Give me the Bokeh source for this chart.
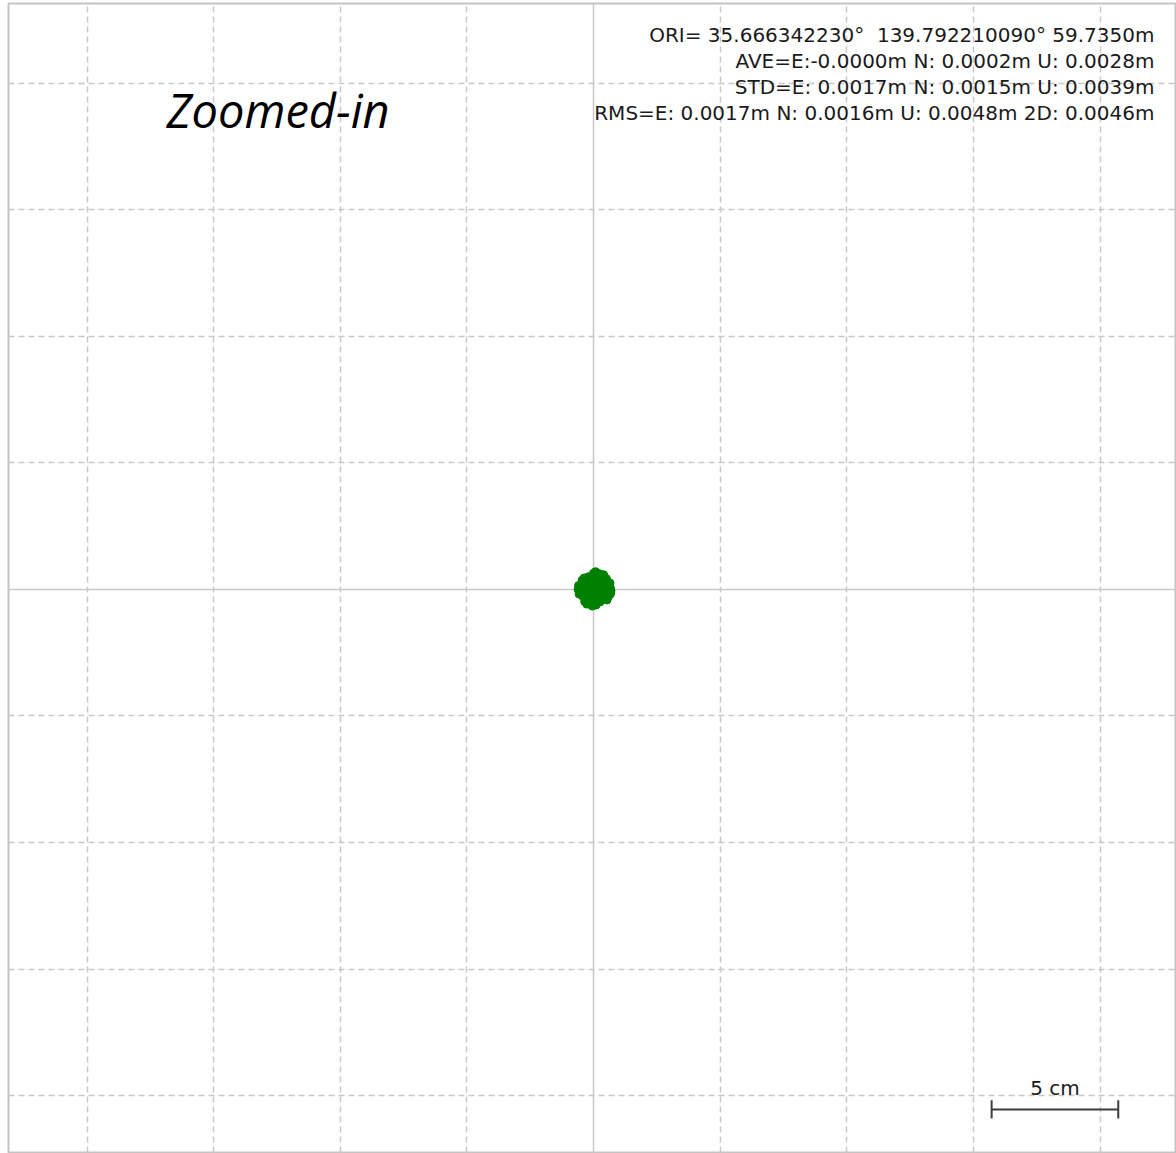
from bokeh.plotting import figure
from bokeh.models import Range1d, Grid, FixedTicker, Span, Label, ColumnDataSource
from bokeh.embed import file_html
from bokeh.resources import INLINE

# ---- data (E/N offsets from ORI, millimetres) ----
east_mm = [0, 1, -1, 1, -1, 2, -2, 0, 0, 3, -3, 1, -1, 3, -2, 2, -3, 2, -2, 4, -4, 0, 0,
           4, -4, 4, -4, 3, -3, 3, -3, 5, 5, -5, -5, 1, -1, 1, -1, 5.5, 5.5, -5, -5,
           2.5, -2.5, 2, -2.5, 6.2, 6.2, 6.0, -6.6, 0.3, -0.5, -1, 0.5, 4.6, -4.2, 4.8, -4,
           -6.4, -6.2, 6.4, 3.5, -3.2, -1.5, 1.8, 5.2, -5.0]
north_mm = [0, 1, 1, -1, -1, 0, 0, 2, -2, 1, -1, 3, -3, -2, 3, 3, 2, -3, -3, 0, 0, 4, -4,
            3, 3, -3, -3, 4, 4, -4, -4, 1, -1, 1, -1, 5, 5, -5, -5, 2.5, -2.5, 2.5, -2.5,
            5, 5, -5, -5, 0.5, -1.8, 2.5, 0, 7.0, 6.4, -6.6, -6.2, 4.2, 4.5, -4.2, -4.8,
            1.5, -1.8, -0.5, 5.8, -5.8, -6.0, 6.2, -3.2, 3.6]
east = [v / 1000.0 + 0.0005 for v in east_mm]
north = [v / 1000.0 for v in north_mm]

grid_ticks = [-0.2, -0.15, -0.1, -0.05, 0.05, 0.1, 0.15, 0.2]
stats_lines = [
    "ORI= 35.666342230\u00b0 \u00a0139.792210090\u00b0 59.7350m",
    "AVE=E:-0.0000m N: 0.0002m U: 0.0028m",
    "STD=E: 0.0017m N: 0.0015m U: 0.0039m",
    "RMS=E: 0.0017m N: 0.0016m U: 0.0048m 2D: 0.0046m",
]
title_text = "Zoomed-in"
scale_len = 0.05
scale_label = "5 cm"

W, H = 1176, 1153
p = figure(width=W, height=H, output_backend="svg", toolbar_location=None,
           x_range=Range1d(-0.2310, 0.2302), y_range=Range1d(-0.2224, 0.2314),
           min_border_left=8, min_border_top=3, min_border_right=0, min_border_bottom=1,
           x_axis_type=None, y_axis_type=None)
p.xgrid.visible = False
p.ygrid.visible = False
p.outline_line_color = "#c4c4c4"
p.outline_line_width = 2
p.background_fill_color = "white"
p.border_fill_color = "white"

for dim in (0, 1):
    p.add_layout(Grid(dimension=dim, ticker=FixedTicker(ticks=grid_ticks),
                      grid_line_color="#c8c8c8", grid_line_dash="6 4", grid_line_width=1.5))
p.add_layout(Span(location=0, dimension="height", line_color="#c8c8c8", line_width=1.5,
                  level="underlay"))
p.add_layout(Span(location=0, dimension="width", line_color="#c8c8c8", line_width=1.5,
                  level="underlay"))

src = ColumnDataSource(dict(e=east, n=north))
p.scatter("e", "n", source=src, size=8, color="#008000", line_color="#008000")

for i, t in enumerate(stats_lines):
    p.add_layout(Label(x=1154 - 8, y=H - 35 - 26 * i, x_units="screen", y_units="screen",
                       text=t, text_align="right", text_baseline="middle",
                       text_font="DejaVu Sans", text_font_size="20px", text_color="#1a1a1a"))

p.add_layout(Label(x=166 - 8, y=H - 110, x_units="screen", y_units="screen", text=title_text,
                   text_align="left", text_baseline="middle", text_font="Open Sans",
                   text_font_style="italic", text_font_size="47px", text_color="black"))

# scale bar
x0 = 0.1572
yb = -0.2054
p.segment(x0=[x0], y0=[yb], x1=[x0 + scale_len], y1=[yb], line_color="#3c3c3c", line_width=2)
p.segment(x0=[x0, x0 + scale_len], y0=[yb - 0.0036] * 2, x1=[x0, x0 + scale_len],
          y1=[yb + 0.0036] * 2, line_color="#3c3c3c", line_width=2)
p.add_layout(Label(x=x0 + scale_len / 2, y=yb + 0.0086, text=scale_label, text_align="center",
                   text_baseline="middle", text_font="DejaVu Sans", text_font_size="20px",
                   text_color="#1a1a1a"))

open("out.html", "w").write(file_html(p, INLINE))
